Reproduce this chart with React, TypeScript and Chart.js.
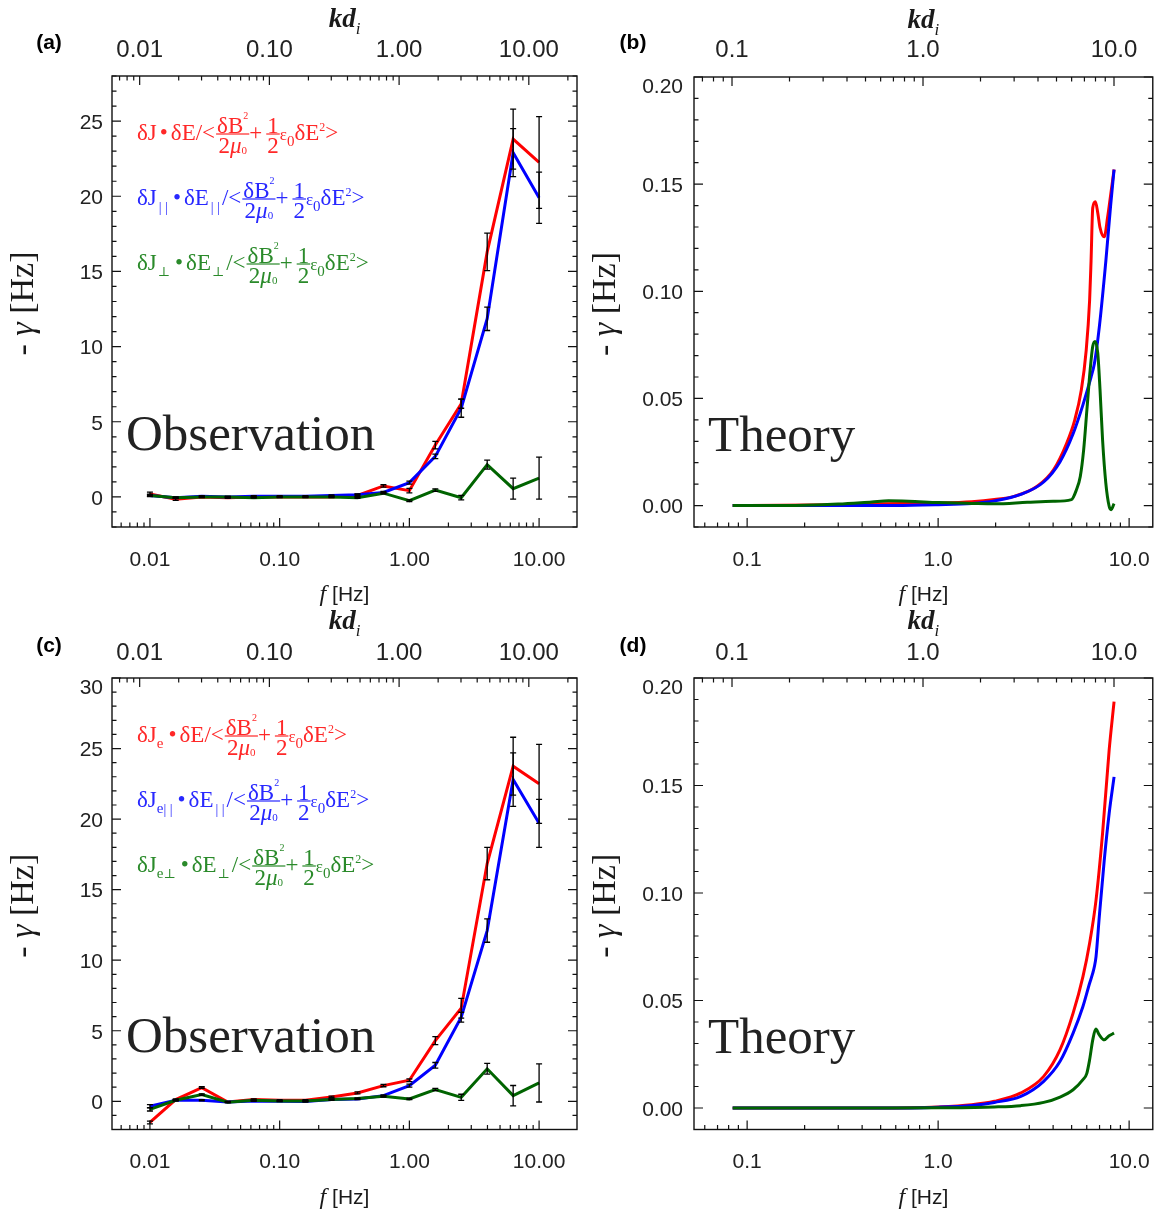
import React, { useEffect, useRef } from 'react';
import { Chart, registerables } from 'chart.js';

Chart.register(...registerables);

// ---------------- data ----------------
const OBS_FREQ = [0.01, 0.0158, 0.0251, 0.0398, 0.0631, 0.1, 0.158, 0.251, 0.398, 0.631, 1.0, 1.585, 2.51, 3.98, 6.31, 10.0];

const A_RED = [0.2, -0.15, 0.0, -0.05, 0.0, 0.0, 0.0, 0.0, 0.1, 0.73, 0.42, 3.45, 6.2, 16.3, 23.8, 22.25];
const A_RED_ERR = [0.12, 0.08, 0.05, 0.05, 0.05, 0.04, 0.04, 0.05, 0.08, 0.08, 0.15, 0.25, 0.3, 1.25, 2.0, 3.05];
const A_BLUE = [0.1, -0.05, 0.05, 0.0, 0.05, 0.05, 0.05, 0.1, 0.15, 0.3, 0.95, 2.7, 5.9, 11.85, 22.9, 19.9];
const A_BLUE_ERR = [0.08, 0.05, 0.04, 0.04, 0.04, 0.03, 0.03, 0.04, 0.06, 0.07, 0.1, 0.15, 0.6, 0.78, 1.6, 1.7];
const A_GREEN = [0.1, -0.05, 0.0, 0.0, -0.05, 0.0, 0.0, 0.0, -0.05, 0.25, -0.25, 0.45, -0.05, 2.15, 0.55, 1.25];
const A_GREEN_ERR = [0.06, 0.04, 0.03, 0.03, 0.03, 0.02, 0.02, 0.03, 0.04, 0.05, 0.06, 0.08, 0.15, 0.3, 0.7, 1.4];

const C_RED = [-1.5, 0.12, 0.97, -0.05, 0.12, 0.07, 0.07, 0.31, 0.59, 1.11, 1.49, 4.3, 6.6, 16.85, 23.75, 22.5];
const C_RED_ERR = [0.1, 0.05, 0.06, 0.04, 0.05, 0.04, 0.04, 0.05, 0.07, 0.08, 0.1, 0.28, 0.7, 1.15, 2.05, 2.8];
const C_BLUE = [-0.35, 0.07, 0.07, -0.05, 0.02, 0.0, -0.02, 0.12, 0.17, 0.4, 1.11, 2.55, 5.96, 12.1, 22.8, 19.7];
const C_BLUE_ERR = [0.12, 0.04, 0.04, 0.03, 0.03, 0.03, 0.03, 0.04, 0.05, 0.06, 0.1, 0.2, 0.35, 0.83, 1.9, 1.7];
const C_GREEN = [-0.57, 0.07, 0.47, -0.07, 0.07, 0.02, 0.02, 0.12, 0.19, 0.35, 0.17, 0.83, 0.28, 2.3, 0.4, 1.3];
const C_GREEN_ERR = [0.12, 0.04, 0.05, 0.03, 0.03, 0.02, 0.02, 0.03, 0.04, 0.05, 0.05, 0.08, 0.22, 0.38, 0.72, 1.35];

const B_RED_F = [0.084, 0.15, 0.3, 0.5, 0.7, 1.0, 1.5, 1.97, 2.5, 3.3, 4.02, 4.71, 5.19, 5.62, 5.96, 6.21, 6.32, 6.45, 6.66, 6.85, 7.04, 7.41, 7.71, 8.01, 8.34];
const B_RED = [0, 0.0001, 0.0004, 0.0008, 0.001, 0.0012, 0.0018, 0.0028, 0.0043, 0.009, 0.0167, 0.0291, 0.0399, 0.0539, 0.0724, 0.0957, 0.1142, 0.139, 0.1418, 0.1367, 0.1297, 0.1254, 0.1344, 0.1452, 0.1568];
const B_BLUE_F = [0.084, 0.3, 0.6, 1.0, 1.5, 1.97, 2.71, 3.57, 4.35, 5.09, 5.73, 6.32, 6.58, 6.98, 7.55, 8.0, 8.34];
const B_BLUE = [0, 0, 0, 0.0004, 0.001, 0.0022, 0.0052, 0.011, 0.0205, 0.0335, 0.047, 0.06, 0.0663, 0.0833, 0.114, 0.14, 0.1568];
const B_GREEN_F = [0.084, 0.2, 0.3, 0.45, 0.55, 0.7, 1.0, 1.5, 1.97, 2.93, 4.0, 4.99, 5.3, 5.55, 5.78, 6.01, 6.25, 6.45, 6.63, 6.85, 7.04, 7.26, 7.55, 7.86, 8.05, 8.34];
const B_GREEN = [0, 0.0002, 0.0007, 0.0017, 0.0022, 0.002, 0.0014, 0.001, 0.0008, 0.0015, 0.002, 0.0028, 0.0074, 0.0136, 0.026, 0.0446, 0.0632, 0.0743, 0.0766, 0.0712, 0.0542, 0.0307, 0.0105, -0.0003, -0.0019, 0.0009];

const D_RED_F = [0.084, 0.5, 1.0, 1.5, 1.97, 2.71, 3.57, 4.35, 5.09, 5.73, 6.21, 6.71, 7.26, 7.86, 8.34];
const D_RED = [0, 0, 0.0005, 0.0015, 0.0031, 0.007, 0.0147, 0.0271, 0.0441, 0.0611, 0.0766, 0.0967, 0.1277, 0.1664, 0.189];
const D_BLUE_F = [0.084, 0.5, 1.0, 1.5, 1.97, 2.71, 3.57, 4.35, 5.09, 5.73, 6.21, 6.45, 6.58, 6.71, 6.98, 7.41, 7.86, 8.34];
const D_BLUE = [0, 0, 0.0004, 0.0012, 0.0026, 0.0054, 0.0124, 0.0217, 0.0348, 0.0472, 0.058, 0.0627, 0.0658, 0.0704, 0.089, 0.1153, 0.137, 0.154];
const D_GREEN_F = [0.084, 0.5, 1.0, 1.97, 2.71, 3.57, 4.35, 5.09, 5.73, 6.0, 6.21, 6.45, 6.69, 6.98, 7.41, 7.86, 8.34];
const D_GREEN = [0, 0, 0.0001, 0.0005, 0.0011, 0.0026, 0.0051, 0.0085, 0.0132, 0.016, 0.0224, 0.0317, 0.0367, 0.034, 0.0317, 0.0336, 0.0348];

const OBS_X_TICKS = [0.01, 0.1, 1, 10];
const OBS_KD_TICKS = [0.01, 0.1, 1, 10];
const TH_X_TICKS = [0.1, 1, 10];
const TH_KD_TICKS = [0.1, 1, 10];
const A_Y_TICKS = [0, 5, 10, 15, 20, 25];
const C_Y_TICKS = [0, 5, 10, 15, 20, 25, 30];
const TH_Y_TICKS = [0, 0.05, 0.1, 0.15, 0.2];

// ---------------- styling ----------------
const RED = '#ff0000';
const BLUE = '#0000ff';
const GREEN = '#006400';
const SERIF = '"Liberation Serif", "DejaVu Serif", "Times New Roman", serif';
const SANS = '"Liberation Sans", Arial, Helvetica, sans-serif';
const KD = 1.2;

type Txt = { s: string; size: number; dy: number; it?: boolean };
type Tok = Txt | { gap: number } | { n: Tok[]; d: Tok[] };

const MS = 23;
const M = (s: string): Txt => ({ s, size: MS, dy: 0 });
const T = (s: string, size: number, dy: number, it = false): Txt => ({ s, size, dy, it });
const G = (gap: number): Tok => ({ gap });

const TAIL: Tok[] = [
  G(1),
  { n: [M('δB'), T('2', 10, -14)], d: [M('2'), T('μ', MS, 0, true), T('0', 11, 1)] },
  M('+'),
  G(4),
  { n: [M('1')], d: [M('2')] },
  T('ε', 17, 0),
  T('0', 15, 6),
  M('δE'),
  T('2', 12, -9),
  M('>'),
];
const DOT: Tok[] = [G(3), M('•'), G(3)];
const PAR: Tok[] = [G(2), T('| |', 14, 7), G(2)];
const PERP: Tok[] = [G(1), T('⊥', 13, 6), G(2)];

const LEG_A: Tok[][] = [
  [M('δJ'), ...DOT, M('δE/<'), ...TAIL],
  [M('δJ'), ...PAR, ...DOT, M('δE'), ...PAR, M('/<'), ...TAIL],
  [M('δJ'), ...PERP, ...DOT, M('δE'), ...PERP, M('/<'), ...TAIL],
];
const LEG_C: Tok[][] = [
  [M('δJ'), T('e', 15, 6), G(2), ...DOT, M('δE/<'), ...TAIL],
  [M('δJ'), T('e', 15, 6), T('| |', 14, 7), G(2), ...DOT, M('δE'), ...PAR, M('/<'), ...TAIL],
  [M('δJ'), T('e', 15, 6), T('⊥', 13, 6), G(2), ...DOT, M('δE'), ...PERP, M('/<'), ...TAIL],
];
const LEG_COLORS = ['#ff2828', '#2828ff', '#2a8a2a'];

function txtFont(t: Txt) {
  return `${t.it ? 'italic ' : ''}${t.size}px ${SERIF}`;
}
function runW(ctx: any, toks: Tok[]): number {
  let w = 0;
  for (const t of toks as any[]) {
    if (t.gap !== undefined) w += t.gap;
    else if (t.n) w += Math.max(runW(ctx, t.n), runW(ctx, t.d)) + 2;
    else { ctx.font = txtFont(t); w += ctx.measureText(t.s).width; }
  }
  return w;
}
function drawRun(ctx: any, toks: Tok[], x: number, base: number): number {
  for (const t of toks as any[]) {
    if (t.gap !== undefined) { x += t.gap; continue; }
    if (t.n) {
      const nw = runW(ctx, t.n), dw = runW(ctx, t.d);
      const w = Math.max(nw, dw) + 2;
      const bar = base - 5.6;
      drawRun(ctx, t.n, x + (w - nw) / 2, bar - 1.5);
      drawRun(ctx, t.d, x + (w - dw) / 2, bar + 19);
      ctx.fillRect(x, bar - 0.6, w, 1.2);
      x += w;
      continue;
    }
    ctx.font = txtFont(t);
    ctx.fillText(t.s, x, base + t.dy);
    x += ctx.measureText(t.s).width;
  }
  return x;
}

type Part = { s: string; font: string; dy?: number };
function drawParts(ctx: any, parts: Part[], cx: number, base: number) {
  let total = 0;
  for (const p of parts) { ctx.font = p.font; total += ctx.measureText(p.s).width; }
  let x = cx - total / 2;
  ctx.textAlign = 'left';
  ctx.textBaseline = 'alphabetic';
  for (const p of parts) {
    ctx.font = p.font;
    ctx.fillText(p.s, x, base + (p.dy || 0));
    x += ctx.measureText(p.s).width;
  }
}

function logTicks(min: number, max: number) {
  const out: { v: number; major: boolean }[] = [];
  for (let d = Math.floor(Math.log10(min)); d <= Math.ceil(Math.log10(max)); d++) {
    for (let k = 1; k <= 9; k++) {
      const v = k * Math.pow(10, d);
      if (v >= min * 0.9999 && v <= max * 1.0001) out.push({ v, major: k === 1 });
    }
  }
  return out;
}

type Series = { x: number[]; y: number[]; err?: number[]; color: string; order: number };
type Panel = {
  id: string; cx: number; cy: number; cw: number; ch: number;
  L: number; T: number; R: number; B: number;
  xMin: number; xMax: number; xTicks: number[]; kdTicks: number[]; xDec: number;
  yMin: number; yMax: number; yTicks: number[]; yMinor: number; yDec: number; yPad: number;
  topPad: number; botPad: number;
  series: Series[]; smooth: boolean;
  tag: string; tagX: number; tagY: number;
  big: string; bigX: number; bigY: number;
  legend?: Tok[][]; legendY?: number[];
};

const PANELS: Panel[] = [
  {
    id: 'a', cx: 0, cy: 0, cw: 590, ch: 606, L: 112, T: 76, R: 577, B: 527,
    xMin: 0.0051, xMax: 19.6, xTicks: OBS_X_TICKS, kdTicks: OBS_KD_TICKS, xDec: 2,
    yMin: -2, yMax: 28, yTicks: A_Y_TICKS, yMinor: 1, yDec: 0, yPad: 9, topPad: 11.5, botPad: 20.5,
    series: [
      { x: OBS_FREQ, y: A_RED, err: A_RED_ERR, color: RED, order: 3 },
      { x: OBS_FREQ, y: A_BLUE, err: A_BLUE_ERR, color: BLUE, order: 2 },
      { x: OBS_FREQ, y: A_GREEN, err: A_GREEN_ERR, color: GREEN, order: 1 },
    ],
    smooth: false, tag: '(a)', tagX: 49, tagY: 43, big: 'Observation', bigX: 126, bigY: 450,
    legend: LEG_A, legendY: [134, 199, 264],
  },
  {
    id: 'b', cx: 590, cy: 0, cw: 581, ch: 606, L: 694, T: 77, R: 1161, B: 527,
    xMin: 0.0527, xMax: 13.3, xTicks: TH_X_TICKS, kdTicks: TH_KD_TICKS, xDec: 1,
    yMin: -0.01, yMax: 0.2, yTicks: TH_Y_TICKS, yMinor: 0.01, yDec: 2, yPad: 11, topPad: 12.5, botPad: 20.5,
    series: [
      { x: B_RED_F, y: B_RED, color: RED, order: 3 },
      { x: B_BLUE_F, y: B_BLUE, color: BLUE, order: 2 },
      { x: B_GREEN_F, y: B_GREEN, color: GREEN, order: 1 },
    ],
    smooth: true, tag: '(b)', tagX: 633, tagY: 43, big: 'Theory', bigX: 708, bigY: 451,
  },
  {
    id: 'c', cx: 0, cy: 606, cw: 590, ch: 610, L: 112, T: 678, R: 577, B: 1129.5,
    xMin: 0.0051, xMax: 19.6, xTicks: OBS_X_TICKS, kdTicks: OBS_KD_TICKS, xDec: 2,
    yMin: -2, yMax: 30, yTicks: C_Y_TICKS, yMinor: 1, yDec: 0, yPad: 9, topPad: 10.5, botPad: 20.5,
    series: [
      { x: OBS_FREQ, y: C_RED, err: C_RED_ERR, color: RED, order: 3 },
      { x: OBS_FREQ, y: C_BLUE, err: C_BLUE_ERR, color: BLUE, order: 2 },
      { x: OBS_FREQ, y: C_GREEN, err: C_GREEN_ERR, color: GREEN, order: 1 },
    ],
    smooth: false, tag: '(c)', tagX: 49, tagY: 646, big: 'Observation', bigX: 126, bigY: 1052,
    legend: LEG_C, legendY: [736, 801, 866],
  },
  {
    id: 'd', cx: 590, cy: 606, cw: 581, ch: 610, L: 694, T: 678, R: 1161, B: 1129.5,
    xMin: 0.0527, xMax: 13.3, xTicks: TH_X_TICKS, kdTicks: TH_KD_TICKS, xDec: 1,
    yMin: -0.01, yMax: 0.2, yTicks: TH_Y_TICKS, yMinor: 0.01, yDec: 2, yPad: 11, topPad: 10.5, botPad: 20.5,
    series: [
      { x: D_RED_F, y: D_RED, color: RED, order: 3 },
      { x: D_BLUE_F, y: D_BLUE, color: BLUE, order: 2 },
      { x: D_GREEN_F, y: D_GREEN, color: GREEN, order: 1 },
    ],
    smooth: true, tag: '(d)', tagX: 633, tagY: 646, big: 'Theory', bigX: 708, bigY: 1052.5,
  },
];

const isTop = (p: Panel, v: number) => Math.abs(v - p.yMax) < 1e-9;
const fmtY = (p: Panel, v: number) => Number(v).toFixed(p.yDec);

function makeChart(canvas: HTMLCanvasElement, p: Panel) {
  const ox = p.cx, oy = p.cy;
  const deco = {
    id: 'deco' + p.id,
    afterDatasetsDraw(chart: any) {
      const ctx = chart.ctx;
      const ca = chart.chartArea;
      const xs = chart.scales.x, x2 = chart.scales.x2, ys = chart.scales.y;
      ctx.save();
      // error bars
      ctx.strokeStyle = '#000';
      ctx.lineWidth = 1.3;
      for (const s of p.series) {
        if (!s.err) continue;
        for (let i = 0; i < s.x.length; i++) {
          const px = xs.getPixelForValue(s.x[i]);
          const y1 = ys.getPixelForValue(s.y[i] + s.err[i]);
          const y2 = ys.getPixelForValue(s.y[i] - s.err[i]);
          ctx.beginPath();
          ctx.moveTo(px, y1); ctx.lineTo(px, y2);
          ctx.moveTo(px - 3, y1); ctx.lineTo(px + 3, y1);
          ctx.moveTo(px - 3, y2); ctx.lineTo(px + 3, y2);
          ctx.stroke();
        }
      }
      // frame
      ctx.strokeStyle = '#111';
      ctx.lineWidth = 1.4;
      ctx.strokeRect(ca.left, ca.top, ca.right - ca.left, ca.bottom - ca.top);
      ctx.lineWidth = 1.2;
      ctx.beginPath();
      for (const t of logTicks(p.xMin, p.xMax)) {
        const px = xs.getPixelForValue(t.v);
        const len = t.major ? 9 : 4.5;
        ctx.moveTo(px, ca.bottom); ctx.lineTo(px, ca.bottom - len);
      }
      for (const t of logTicks(p.xMin * KD, p.xMax * KD)) {
        const px = x2.getPixelForValue(t.v);
        const len = t.major ? 9 : 4.5;
        ctx.moveTo(px, ca.top); ctx.lineTo(px, ca.top + len);
      }
      const i0 = Math.ceil(p.yMin / p.yMinor - 1e-6), i1 = Math.floor(p.yMax / p.yMinor + 1e-6);
      for (let i = i0; i <= i1; i++) {
        const py = ys.getPixelForValue(i * p.yMinor);
        const len = i % 5 === 0 ? 9 : 4.5;
        ctx.moveTo(ca.left, py); ctx.lineTo(ca.left + len, py);
        ctx.moveTo(ca.right, py); ctx.lineTo(ca.right - len, py);
      }
      ctx.stroke();

      // top y label (placed just inside like the original)
      for (const v of p.yTicks) {
        if (!isTop(p, v)) continue;
        ctx.fillStyle = '#222';
        ctx.font = `21px ${SANS}`;
        ctx.textAlign = 'right';
        ctx.textBaseline = 'middle';
        ctx.fillText(fmtY(p, v), ca.left - p.yPad, ys.getPixelForValue(v) + 10);
      }

      // panel tag
      ctx.fillStyle = '#000';
      ctx.font = `bold 21px ${SANS}`;
      ctx.textAlign = 'center';
      ctx.textBaseline = 'middle';
      ctx.fillText(p.tag, p.tagX - ox, p.tagY - oy);

      const midX = (ca.left + ca.right) / 2;
      ctx.fillStyle = '#1a1a1a';
      drawParts(ctx, [
        { s: 'kd', font: `italic bold 27px ${SERIF}` },
        { s: 'i', font: `italic 17px ${SERIF}`, dy: 7 },
      ], midX, ca.top - 49);
      drawParts(ctx, [
        { s: 'f', font: `italic 24px ${SERIF}` },
        { s: ' [Hz]', font: `21px ${SANS}` },
      ], midX, ca.bottom + 74);
      ctx.save();
      ctx.translate(ca.left - 79, (ca.top + ca.bottom) / 2 + 2);
      ctx.rotate(-Math.PI / 2);
      drawParts(ctx, [
        { s: '- ', font: `34px ${SERIF}` },
        { s: 'γ', font: `italic 34px ${SERIF}` },
        { s: ' [Hz]', font: `34px ${SERIF}` },
      ], 0, 0);
      ctx.restore();

      // big label
      ctx.fillStyle = '#222';
      ctx.font = `51px ${SERIF}`;
      ctx.textAlign = 'left';
      ctx.textBaseline = 'alphabetic';
      ctx.fillText(p.big, p.bigX - ox, p.bigY - oy);

      // legend formulas
      if (p.legend && p.legendY) {
        ctx.textAlign = 'left';
        ctx.textBaseline = 'alphabetic';
        p.legend.forEach((row, i) => {
          ctx.fillStyle = LEG_COLORS[i];
          drawRun(ctx, row, 137 - ox, p.legendY![i] + 5.6 - oy);
        });
      }
      ctx.restore();
    },
  };

  const tickFont = { family: SANS, size: 21 };
  return new Chart(canvas, {
    type: 'line',
    data: {
      datasets: p.series.map((s) => ({
        data: s.x.map((x, i) => ({ x, y: s.y[i] })),
        borderColor: s.color,
        backgroundColor: s.color,
        borderWidth: 3,
        pointRadius: 0,
        fill: false,
        tension: 0,
        cubicInterpolationMode: p.smooth ? 'monotone' : 'default',
        order: s.order,
        xAxisID: 'x',
        yAxisID: 'y',
      })),
    },
    options: {
      responsive: false,
      animation: false,
      devicePixelRatio: 1,
      layout: { padding: { left: 0, top: 0, bottom: 0, right: p.cx + p.cw - p.R } },
      plugins: { legend: { display: false }, tooltip: { enabled: false }, title: { display: false } },
      scales: {
        x: {
          type: 'logarithmic', axis: 'x', position: 'bottom', min: p.xMin, max: p.xMax, bounds: 'data',
          grid: { display: false, drawTicks: false }, border: { display: false },
          ticks: {
            autoSkip: false, maxRotation: 0, minRotation: 0, padding: p.botPad, font: tickFont, color: '#222',
            callback: (v: any) => Number(v).toFixed(p.xDec),
          },
          afterBuildTicks: (s: any) => { s.ticks = p.xTicks.map((v) => ({ value: v })); },
          afterFit: (s: any) => { s.height = p.cy + p.ch - p.B; },
        },
        x2: {
          type: 'logarithmic', axis: 'x', position: 'top', min: p.xMin * KD, max: p.xMax * KD, bounds: 'data',
          grid: { display: false, drawTicks: false }, border: { display: false },
          ticks: {
            autoSkip: false, maxRotation: 0, minRotation: 0, padding: p.topPad, font: { family: SANS, size: 24 }, color: '#222',
            callback: (v: any) => Number(v).toFixed(p.xDec),
          },
          afterBuildTicks: (s: any) => { s.ticks = p.kdTicks.map((v) => ({ value: v })); },
          afterFit: (s: any) => { s.height = p.T - p.cy; },
        },
        y: {
          type: 'linear', position: 'left', min: p.yMin, max: p.yMax, bounds: 'data',
          grid: { display: false, drawTicks: false }, border: { display: false },
          ticks: {
            autoSkip: false, padding: p.yPad, font: tickFont, color: '#222', labelOffset: 2,
            callback: (v: any) => (isTop(p, Number(v)) ? '' : fmtY(p, Number(v))),
          },
          afterBuildTicks: (s: any) => { s.ticks = p.yTicks.map((v) => ({ value: v })); },
          afterFit: (s: any) => { s.width = p.L - p.cx; },
        },
      },
    } as any,
    plugins: [deco],
  });
}

export default function App() {
  const refs = useRef<(HTMLCanvasElement | null)[]>([]);
  useEffect(() => {
    const charts = PANELS.map((p, i) => makeChart(refs.current[i] as HTMLCanvasElement, p));
    return () => charts.forEach((c) => c.destroy());
  }, []);
  return (
    <div style={{ position: 'absolute', left: 0, top: 0, width: 1171, height: 1216, background: '#fff', overflow: 'hidden' }}>
      {PANELS.map((p, i) => (
        <canvas
          key={p.id}
          ref={(el) => { refs.current[i] = el; }}
          width={p.cw}
          height={p.ch}
          style={{ position: 'absolute', left: p.cx, top: p.cy, width: p.cw, height: p.ch }}
        />
      ))}
    </div>
  );
}
